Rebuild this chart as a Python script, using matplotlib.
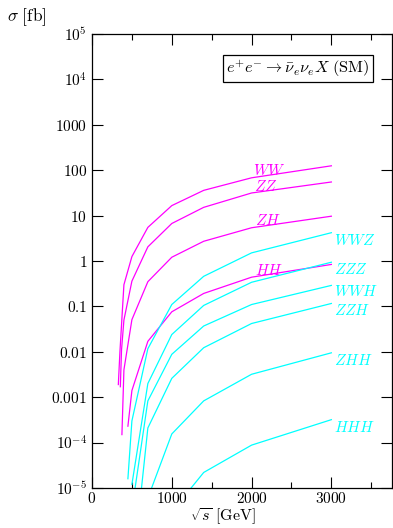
import numpy as np
import matplotlib
matplotlib.use("Agg")
import matplotlib.pyplot as plt
from matplotlib.ticker import FixedLocator, FixedFormatter, NullLocator

plt.rcParams['mathtext.fontset'] = 'cm'
plt.rcParams['font.family'] = 'DejaVu Serif'

# cross sections [fb] vs sqrt(s) [GeV]
ww_x = [330, 350, 400, 500, 700, 1000, 1400, 2000, 3000]
ww_y = [0.0019, 0.01, 0.3, 1.25, 5.5, 16.6, 36, 68, 125]
zz_x = [355, 370, 400, 500, 700, 1000, 1400, 2000, 3000]
zz_y = [0.0017, 0.011, 0.05, 0.36, 2.05, 6.7, 15.2, 31.5, 55]
zh_x = [375, 400, 500, 700, 1000, 1400, 2000, 3000]
zh_y = [1.5e-4, 0.004, 0.051, 0.35, 1.21, 2.72, 5.4, 9.7]
hh_x = [450, 500, 700, 1000, 1400, 2000, 3000]
hh_y = [2.3e-4, 0.0014, 0.017, 0.076, 0.193, 0.44, 0.84]

wwz_x = [450, 500, 700, 1000, 1400, 2000, 3000]
wwz_y = [1.6e-5, 3e-4, 0.0117, 0.11, 0.46, 1.51, 4.2]
zzz_x = [500, 700, 1000, 1400, 2000, 3000]
zzz_y = [1.2e-5, 0.002, 0.024, 0.105, 0.34, 0.94]
wwh_x = [500, 700, 1000, 1400, 2000, 3000]
wwh_y = [3.3e-6, 8.3e-4, 0.0088, 0.037, 0.11, 0.29]
zzh_x = [500, 700, 1000, 1400, 2000, 3000]
zzh_y = [1e-7, 2.1e-4, 0.0026, 0.0123, 0.042, 0.116]
zhh_x = [700, 1000, 1400, 2000, 3000]
zhh_y = [6e-6, 1.55e-4, 8.3e-4, 0.0032, 0.0095]
hhh_x = [1000, 1400, 2000, 3000]
hhh_y = [3e-6, 2.2e-5, 8.8e-5, 3.2e-4]

ytick_vals = [1e-5, 1e-4, 1e-3, 1e-2, 1e-1, 1, 10, 100, 1000, 1e4, 1e5]
ytick_labels = ['$10^{-5}$', '$10^{-4}$', '$0.001$', '$0.01$', '$0.1$', '$1$',
                '$10$', '$100$', '$1000$', '$10^{4}$', '$10^{5}$']
xtick_vals = [0, 1000, 2000, 3000]
xtick_labels = ['$0$', '$1000$', '$2000$', '$3000$']

magenta = '#ff00ff'
cyan = '#00ffff'

if __name__ == "__main__":
    fig = plt.figure(figsize=(3.93, 5.28), dpi=100)
    ax = fig.add_axes([92/393, 40/528, 300/393, 454/528])

    # (x, y, label, label position)
    sm_lines = [
        (ww_x, ww_y, '$WW$', 2020, 98),
        (zz_x, zz_y, '$ZZ$', 2033, 44.5),
        (zh_x, zh_y, '$ZH$', 2045, 7.8),
        (hh_x, hh_y, '$HH$', 2045, 0.63),
    ]
    tri_lines = [
        (wwz_x, wwz_y, '$WWZ$', 3030, 2.8),
        (zzz_x, zzz_y, '$ZZZ$', 3030, 0.65),
        (wwh_x, wwh_y, '$WWH$', 3030, 0.21),
        (zzh_x, zzh_y, '$ZZH$', 3030, 0.082),
        (zhh_x, zhh_y, '$ZHH$', 3030, 0.0063),
        (hhh_x, hhh_y, '$HHH$', 3030, 2.1e-4),
    ]
    for x, y, lab, lx, ly in sm_lines:
        ax.plot(x, y, color=magenta, lw=0.9)
        ax.text(lx, ly, lab, color=magenta, fontsize=11, ha='left', va='center')
    for x, y, lab, lx, ly in tri_lines:
        ax.plot(x, y, color=cyan, lw=0.9)
        ax.text(lx, ly, lab, color=cyan, fontsize=11, ha='left', va='center')

    ax.set_yscale('log')
    ax.set_xlim(0, 3760)
    ax.set_ylim(1e-5, 1e5)

    ax.yaxis.set_major_locator(FixedLocator(ytick_vals))
    ax.yaxis.set_major_formatter(FixedFormatter(ytick_labels))
    ax.yaxis.set_minor_locator(NullLocator())
    ax.xaxis.set_major_locator(FixedLocator(xtick_vals))
    ax.xaxis.set_major_formatter(FixedFormatter(xtick_labels))
    ax.xaxis.set_minor_locator(FixedLocator([500, 1500, 2500, 3500]))

    ax.tick_params(which='both', direction='in', top=True, right=True, labelsize=11)
    ax.tick_params(which='major', length=8, width=0.8)
    ax.tick_params(which='minor', length=4.5, width=0.8)
    ax.tick_params(axis='x', pad=2)
    for s in ax.spines.values():
        s.set_linewidth(0.9)

    ax.text(0.687, 0.923, r'$e^{+}e^{-}\to\bar{\nu}_{e}\nu_{e}X\ \mathrm{(SM)}$',
            transform=ax.transAxes, ha='center', va='center', fontsize=11.7,
            bbox=dict(boxstyle='square,pad=0.2', fc='white', ec='black', lw=0.9))

    fig.text(7/393, 1 - 17/528, r'$\sigma\ [\mathrm{fb}]$', fontsize=12.5,
             ha='left', va='center')
    fig.text(223/393, 1/528, r'$\sqrt{s}\ [\mathrm{GeV}]$', fontsize=11.5,
             ha='center', va='bottom')

    fig.savefig('out.png', dpi=100)
